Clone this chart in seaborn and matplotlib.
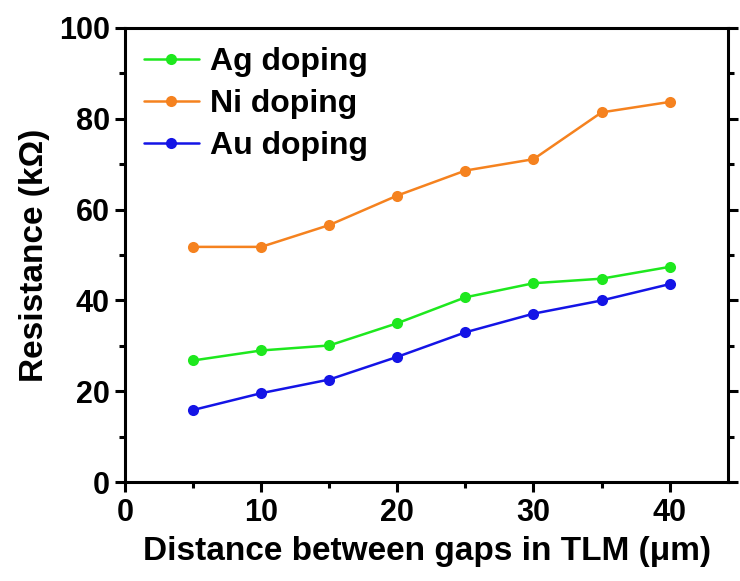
import pandas as pd
import numpy as np
import matplotlib.pyplot as plt
import seaborn as sns
from matplotlib.ticker import MultipleLocator

# gap distances (um)
DISTANCE = [5, 10, 15, 20, 25, 30, 35, 40]

# resistance (kOhm)
AG = [26.8, 29.0, 30.1, 35.0, 40.7, 43.8, 44.8, 47.4]
NI = [51.8, 51.8, 56.6, 63.1, 68.6, 71.1, 81.4, 83.7]
AU = [15.9, 19.6, 22.6, 27.6, 33.0, 37.1, 40.0, 43.6]

SERIES = ['Ag doping', 'Ni doping', 'Au doping']

COLOURS = {
    'Ag doping': '#1ee81e',
    'Ni doping': '#f5821f',
    'Au doping': '#1414e6'
}

sns.set_style('ticks')
plt.rcParams['font.family'] = ['Liberation Sans', 'DejaVu Sans']
plt.rcParams['font.weight'] = 'bold'
plt.rcParams['text.color'] = 'black'
plt.rcParams['axes.labelcolor'] = 'black'
plt.rcParams['xtick.color'] = 'black'
plt.rcParams['ytick.color'] = 'black'

df = pd.DataFrame({
    'distance': DISTANCE * 3,
    'resistance': AG + NI + AU,
    'sample': np.repeat(SERIES, len(DISTANCE))
})

fig = plt.figure(figsize=(7.4, 5.81), dpi=100)
ax = fig.add_axes([0.169, 0.170, 0.815, 0.782])

sns.lineplot(
    data=df,
    x='distance',
    y='resistance',
    hue='sample',
    hue_order=SERIES,
    palette=COLOURS,
    marker='o',
    markersize=8,
    markeredgewidth=0,
    linewidth=1.8,
    ax=ax
)

ax.set_xlim(0, 44.3)
ax.set_ylim(0, 100)
ax.xaxis.set_major_locator(MultipleLocator(10))
ax.xaxis.set_minor_locator(MultipleLocator(5))
ax.yaxis.set_major_locator(MultipleLocator(20))
ax.yaxis.set_minor_locator(MultipleLocator(10))

for side in ['left', 'right', 'top', 'bottom']:
    ax.spines[side].set_visible(True)
    ax.spines[side].set_linewidth(2.2)
    ax.spines[side].set_color('black')

ax.tick_params(which='major', direction='out', length=7, width=2.2,
               labelsize=22, pad=4, right=True, top=False, labelright=False)
ax.tick_params(which='minor', direction='out', length=4, width=2.2,
               right=True, top=False)
for lab in ax.get_xticklabels() + ax.get_yticklabels():
    lab.set_fontweight('bold')

ax.set_xlabel('Distance between gaps in TLM (\u03bcm)', fontsize=24, fontweight='bold', labelpad=6)
ax.set_ylabel('Resistance (k\u03a9)', fontsize=24, fontweight='bold', labelpad=6)

ax.legend(loc='upper left', frameon=False, handlelength=1.7,
          handletextpad=0.35, labelspacing=0.38, borderaxespad=0.2,
          bbox_to_anchor=(0.0, 1.0),
          prop={'weight': 'bold', 'size': 23})

plt.savefig('out.png', dpi=100)
